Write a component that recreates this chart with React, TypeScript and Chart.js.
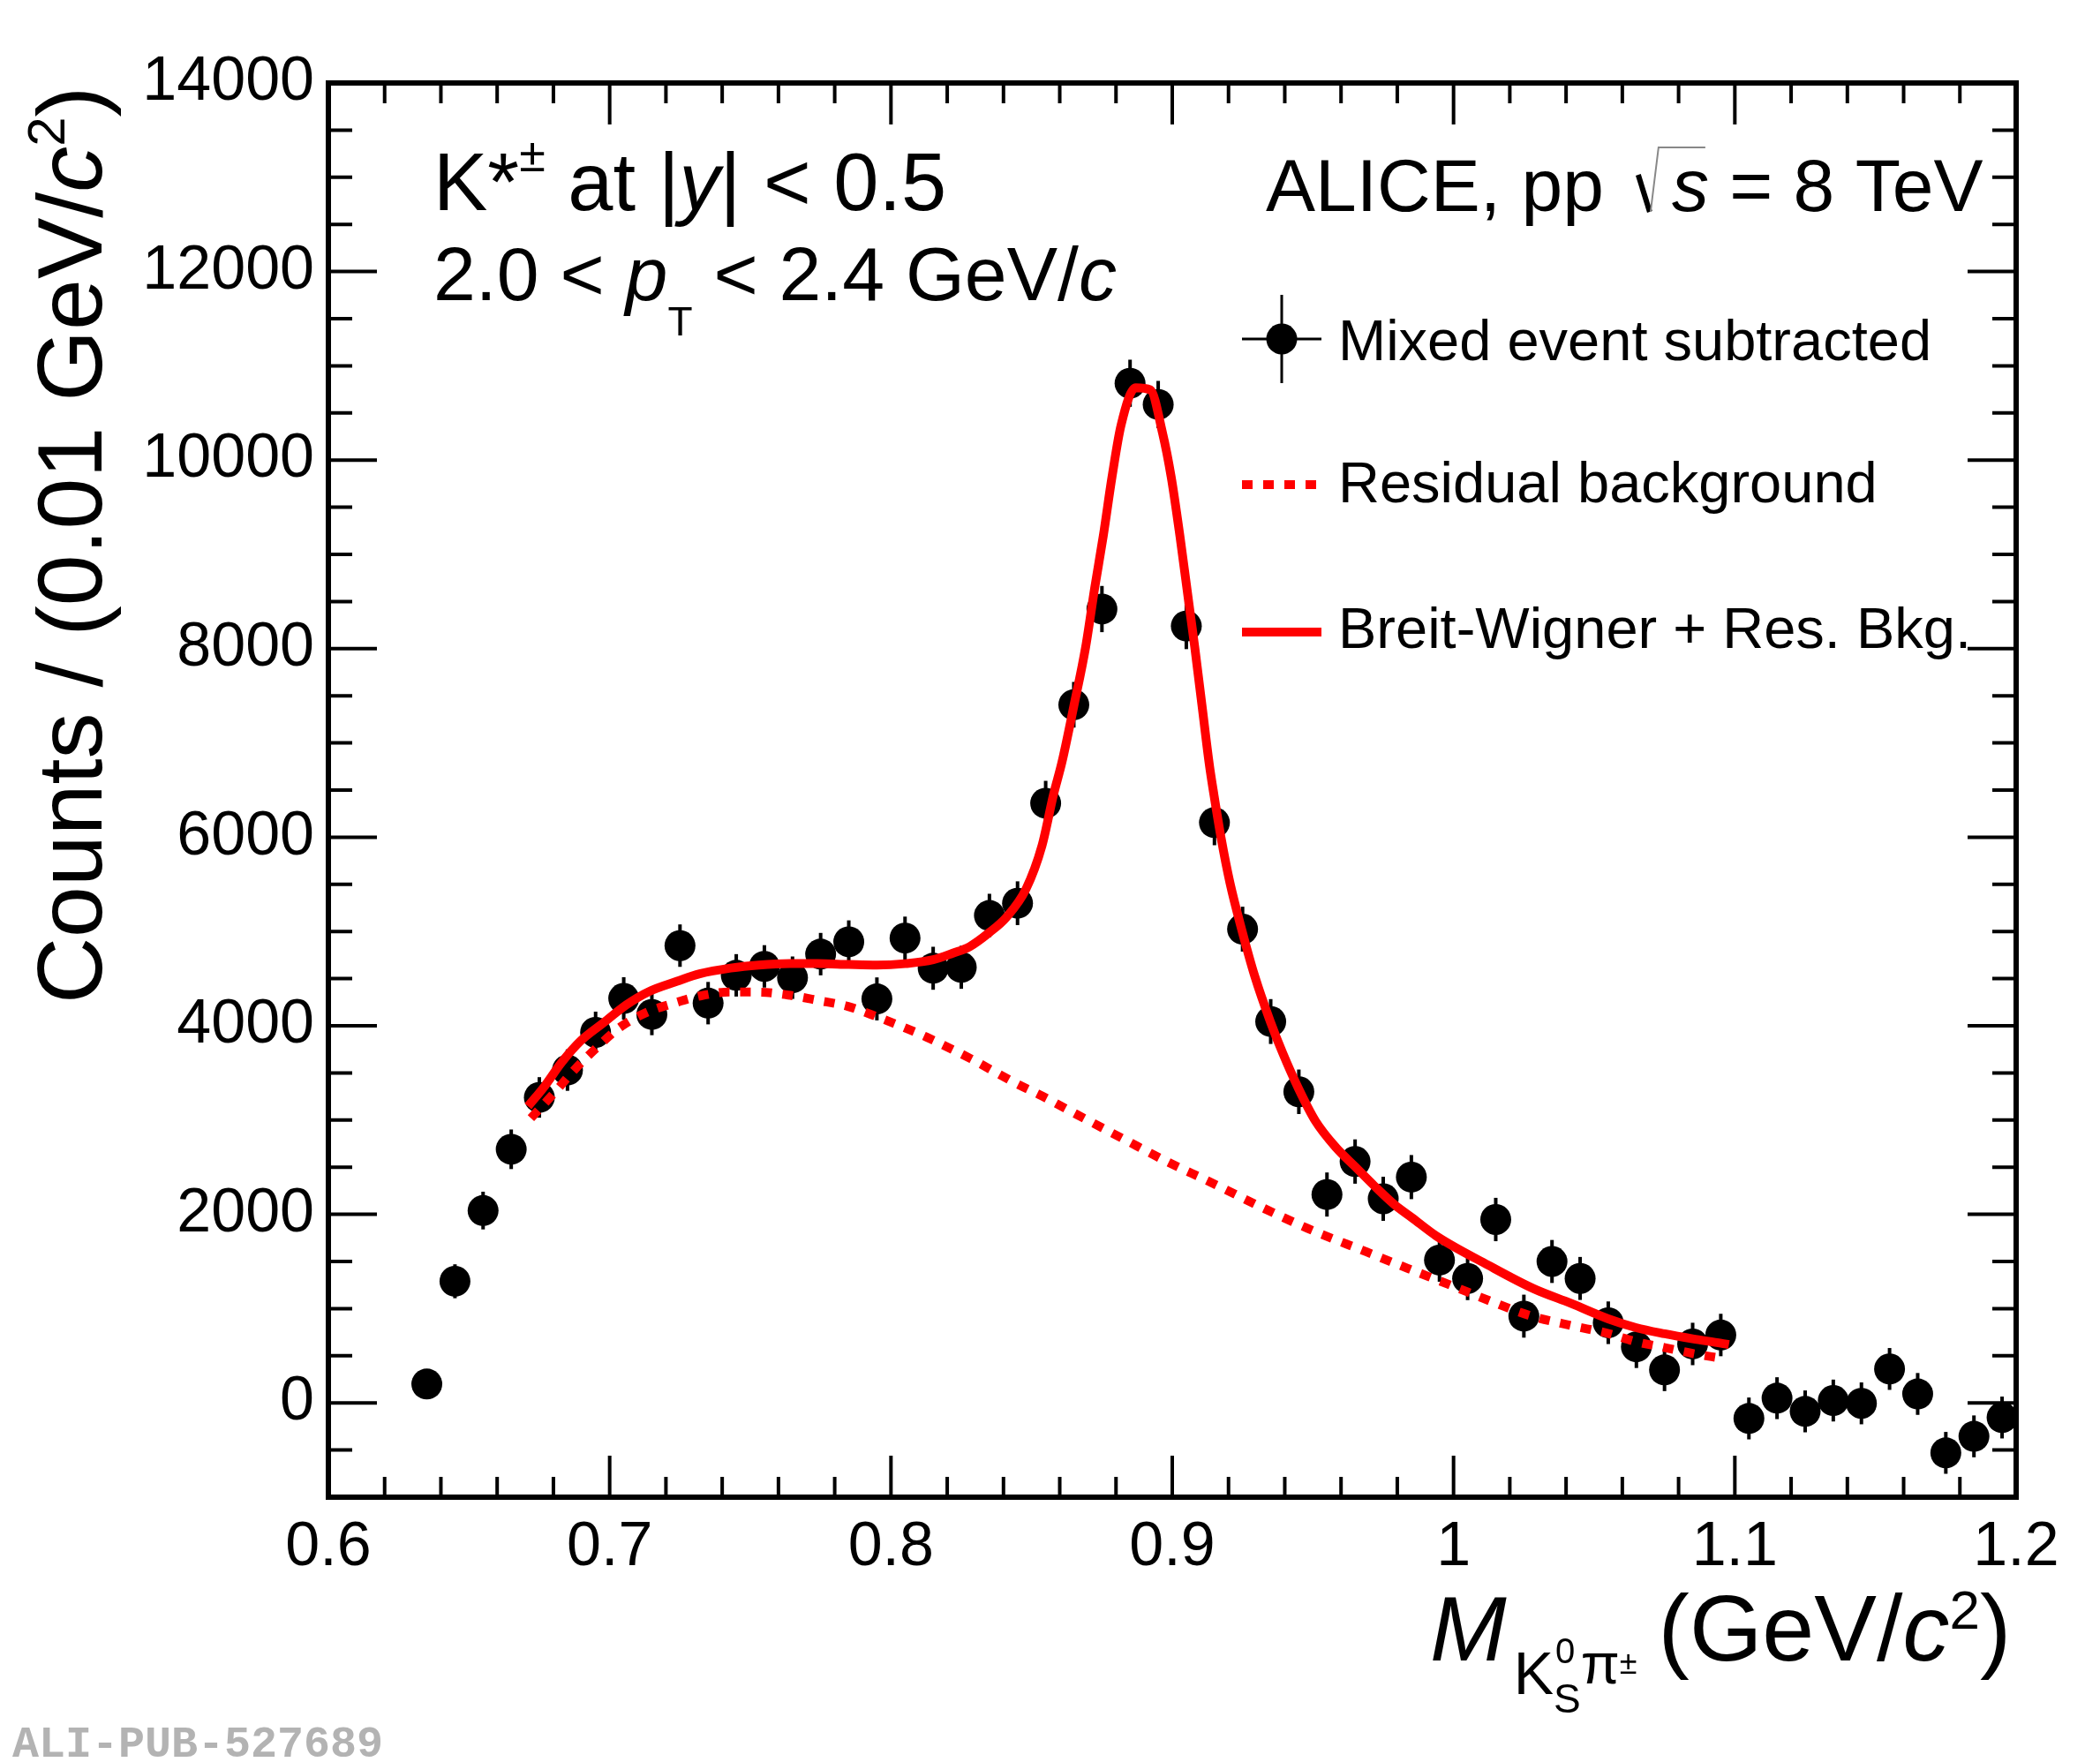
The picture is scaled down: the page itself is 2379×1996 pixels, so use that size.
import React, { useEffect, useRef } from 'react';
import { Chart, registerables } from 'chart.js';

Chart.register(...registerables);

const FONT = "'Liberation Sans', Arial, Helvetica, sans-serif";

// K*± invariant-mass bins (GeV/c^2), counts per 0.01 GeV/c^2 and stat. errors
const massBins = [
  0.635, 0.645, 0.655, 0.665, 0.675, 0.685, 0.695, 0.705, 0.715, 0.725,
  0.735, 0.745, 0.755, 0.765, 0.775, 0.785, 0.795, 0.805, 0.815, 0.825,
  0.835, 0.845, 0.855, 0.865, 0.875, 0.885, 0.895, 0.905, 0.915, 0.925,
  0.935, 0.945, 0.955, 0.965, 0.975, 0.985, 0.995, 1.005, 1.015, 1.025,
  1.035, 1.045, 1.055, 1.065, 1.075, 1.085, 1.095, 1.105, 1.115, 1.125,
  1.135, 1.145, 1.155, 1.165, 1.175, 1.185, 1.195,
];
const counts = [
  200, 1290, 2040, 2690, 3240, 3530, 3930, 4290, 4120, 4850,
  4240, 4535, 4630, 4510, 4760, 4890, 4285, 4930, 4610, 4620,
  5170, 5300, 6360, 7405, 8420, 10815, 10590, 8240, 6155, 5025,
  4045, 3300, 2210, 2560, 2165, 2395, 1515, 1320, 1945, 920,
  1500, 1320, 850, 595, 350, 625, 720, -165, 50, -90,
  25, -5, 360, 95, -530, -355, -155,
];
const countErrors = [
  140, 180, 200, 210, 215, 220, 220, 225, 220, 225,
  225, 225, 225, 225, 225, 228, 228, 228, 228, 228,
  230, 232, 238, 242, 245, 250, 250, 245, 240, 238,
  238, 236, 234, 235, 234, 234, 230, 230, 230, 228,
  228, 228, 226, 225, 225, 225, 225, 222, 222, 222,
  222, 222, 222, 222, 222, 222, 222,
];

// Breit-Wigner + residual background fit
const fitMass = [
  0.671, 0.677, 0.683, 0.690, 0.698, 0.706, 0.714, 0.724, 0.732, 0.743,
  0.753, 0.764, 0.774, 0.785, 0.795, 0.805, 0.815, 0.822, 0.828, 0.835,
  0.841, 0.848, 0.8537, 0.8578, 0.8608, 0.865, 0.8692, 0.8724, 0.8755, 0.8786,
  0.8818, 0.887, 0.8922, 0.8965, 0.8996, 0.9027, 0.9059, 0.908, 0.9106, 0.9132,
  0.9148, 0.9174, 0.9205, 0.9247, 0.9294, 0.9348, 0.9393, 0.9449, 0.9509, 0.9582,
  0.965, 0.9718, 0.9791, 0.9854, 0.9938, 1.0123, 1.0285, 1.0419, 1.055, 1.0649,
  1.0751, 1.085, 1.0951, 1.0979,
];
const fitCounts = [
  3146, 3364, 3614, 3848, 4036, 4223, 4363, 4472, 4551, 4612,
  4644, 4659, 4659, 4650, 4644, 4659, 4700, 4770, 4840, 4990,
  5150, 5450, 5911, 6454, 6798, 7390, 8015, 8639, 9200, 9825,
  10371, 10768, 10745, 10293, 9825, 9200, 8483, 8015, 7390, 6766,
  6454, 5986, 5518, 5019, 4519, 4050, 3708, 3333, 2990, 2709,
  2506, 2303, 2100, 1960, 1772, 1461, 1211, 1054, 892, 798,
  733, 680, 633, 618,
];

// residual background component
const bkgMass = [
  0.672, 0.6798, 0.6871, 0.6955, 0.7039, 0.7133, 0.7227, 0.7321, 0.7426, 0.7531,
  0.7635, 0.774, 0.7845, 0.7949, 0.8054, 0.8127, 0.8284, 0.8441, 0.8537, 0.8665,
  0.8825, 0.8986, 0.913, 0.9322, 0.9482, 0.9691, 0.9835, 0.9995, 1.0139, 1.0267,
  1.0419, 1.055, 1.0649, 1.0751, 1.085, 1.0951,
];
const bkgCounts = [
  3021, 3271, 3521, 3770, 3989, 4144, 4238, 4316, 4357, 4357,
  4326, 4270, 4207, 4097, 3973, 3879, 3650, 3395, 3255, 3052,
  2802, 2552, 2350, 2069, 1850, 1601, 1429, 1242, 1070, 930,
  820, 736, 649, 586, 524, 474,
];

const xMajorTicks = [0.6, 0.7, 0.8, 0.9, 1.0, 1.1, 1.2];
const yMajorTicks = [0, 2000, 4000, 6000, 8000, 10000, 12000, 14000];

type Part = { t: string; size: number; italic?: boolean; dy?: number };

function drawParts(ctx: CanvasRenderingContext2D, x: number, y: number, parts: Part[]) {
  let cx = x;
  for (const p of parts) {
    ctx.font = `${p.italic ? 'italic ' : ''}${p.size}px ${FONT}`;
    ctx.fillText(p.t, cx, y + (p.dy ?? 0));
    cx += ctx.measureText(p.t).width;
  }
  return cx;
}

function textWidth(ctx: CanvasRenderingContext2D, t: string, size: number, italic = false) {
  ctx.font = `${italic ? 'italic ' : ''}${size}px ${FONT}`;
  return ctx.measureText(t).width;
}

// ROOT-like frame: inward ticks on all sides, error bars, latex-ish labels
const rootFrame = {
  id: 'rootFrame',
  beforeDatasetsDraw(chart: any) {
    const { ctx, chartArea: a, scales } = chart;
    const { x, y } = scales;
    ctx.save();
    ctx.beginPath();
    ctx.rect(a.left, a.top, a.right - a.left, a.bottom - a.top);
    ctx.clip();
    ctx.strokeStyle = '#000';
    ctx.lineWidth = 4;
    massBins.forEach((m, i) => {
      const px = x.getPixelForValue(m);
      ctx.beginPath();
      ctx.moveTo(px, y.getPixelForValue(counts[i] - countErrors[i]));
      ctx.lineTo(px, y.getPixelForValue(counts[i] + countErrors[i]));
      ctx.stroke();
    });
    ctx.restore();
  },
  afterDraw(chart: any) {
    const { ctx, chartArea: a, scales } = chart;
    const { x, y } = scales;
    ctx.save();

    // ticks
    ctx.strokeStyle = '#000';
    ctx.lineWidth = 4;
    ctx.lineCap = 'butt';
    for (let i = 1; i < 30; i++) {
      const v = 0.6 + i * 0.02;
      const px = x.getPixelForValue(v);
      const len = i % 5 === 0 ? 47 : 23;
      ctx.beginPath();
      ctx.moveTo(px, a.bottom);
      ctx.lineTo(px, a.bottom - len);
      ctx.moveTo(px, a.top);
      ctx.lineTo(px, a.top + len);
      ctx.stroke();
    }
    for (let v = -500; v < 14000; v += 500) {
      const py = y.getPixelForValue(v);
      const len = v % 2000 === 0 ? 55 : 27;
      ctx.beginPath();
      ctx.moveTo(a.left, py);
      ctx.lineTo(a.left + len, py);
      ctx.moveTo(a.right, py);
      ctx.lineTo(a.right - len, py);
      ctx.stroke();
    }

    // frame
    ctx.lineWidth = 6;
    ctx.strokeRect(a.left, a.top, a.right - a.left, a.bottom - a.top);

    ctx.fillStyle = '#000';
    ctx.textBaseline = 'alphabetic';
    ctx.textAlign = 'left';

    // top-left annotations
    drawParts(ctx, 491, 238, [
      { t: 'K*', size: 92 },
      { t: '±', size: 54, dy: -44 },
      { t: ' at |', size: 92 },
      { t: 'y', size: 92, italic: true },
      { t: '| < 0.5', size: 92 },
    ]);
    drawParts(ctx, 491, 340, [
      { t: '2.0 < ', size: 86 },
      { t: 'p', size: 86, italic: true },
      { t: 'T', size: 46, dy: 40 },
      { t: ' < 2.4 GeV/', size: 86 },
      { t: 'c', size: 86, italic: true },
    ]);

    // ALICE, pp sqrt(s) = 8 TeV
    const base = 239;
    let cx = drawParts(ctx, 1434, base, [{ t: 'ALICE, pp', size: 84 }]);
    const sx = cx + 39;
    ctx.lineWidth = 6;
    ctx.beginPath();
    ctx.moveTo(sx, base - 41);
    ctx.lineTo(sx + 13, base + 1);
    ctx.stroke();
    ctx.strokeStyle = '#888';
    ctx.lineWidth = 2;
    ctx.beginPath();
    ctx.moveTo(sx + 14, base + 1);
    ctx.lineTo(sx + 23, base - 72);
    ctx.lineTo(sx + 76, base - 72);
    ctx.stroke();
    ctx.strokeStyle = '#000';
    cx = drawParts(ctx, sx + 38, base, [{ t: 's', size: 84, italic: true }]);
    drawParts(ctx, cx, base, [{ t: ' = 8 TeV', size: 84 }]);

    // legend
    const lx0 = 1407;
    const lx1 = 1497;
    const lc = (lx0 + lx1) / 2;
    ctx.lineWidth = 3;
    ctx.beginPath();
    ctx.moveTo(lx0, 384);
    ctx.lineTo(lx1, 384);
    ctx.moveTo(lc, 334);
    ctx.lineTo(lc, 434);
    ctx.stroke();
    ctx.beginPath();
    ctx.arc(lc, 384, 17.5, 0, Math.PI * 2);
    ctx.fill();

    ctx.strokeStyle = '#ff0000';
    ctx.lineWidth = 10;
    ctx.setLineDash([12, 12]);
    ctx.beginPath();
    ctx.moveTo(lx0, 549);
    ctx.lineTo(lx1 + 4, 549);
    ctx.stroke();
    ctx.setLineDash([]);
    ctx.beginPath();
    ctx.moveTo(lx0, 716);
    ctx.lineTo(lx1, 716);
    ctx.stroke();

    ctx.fillStyle = '#000';
    drawParts(ctx, 1516, 408, [{ t: 'Mixed event subtracted', size: 65 }]);
    drawParts(ctx, 1516, 569, [{ t: 'Residual background', size: 65 }]);
    drawParts(ctx, 1516, 734, [{ t: 'Breit-Wigner + Res. Bkg.', size: 65 }]);

    // x-axis title
    const xb = 1881;
    cx = drawParts(ctx, 1620, xb, [{ t: 'M', size: 104, italic: true }]);
    cx += 8;
    cx = drawParts(ctx, cx, xb, [{ t: 'K', size: 68, dy: 38 }]);
    ctx.font = `40px ${FONT}`;
    ctx.fillText('0', cx + 2, xb + 3);
    ctx.font = `46px ${FONT}`;
    ctx.fillText('S', cx, xb + 59);
    cx += Math.max(textWidth(ctx, '0', 40) + 2, textWidth(ctx, 'S', 46));
    cx = drawParts(ctx, cx, xb, [{ t: 'π', size: 64, dy: 26 }]);
    cx = drawParts(ctx, cx, xb, [{ t: '±', size: 36, dy: 15 }]);
    cx += 24;
    drawParts(ctx, cx, xb, [
      { t: '(GeV/', size: 106 },
      { t: 'c', size: 106, italic: true },
      { t: '2', size: 62, dy: -36 },
      { t: ')', size: 106 },
    ]);

    // y-axis title (rotated)
    ctx.save();
    ctx.translate(115, 1137);
    ctx.rotate(-Math.PI / 2);
    drawParts(ctx, 0, 0, [
      { t: 'Counts / (0.01 GeV/', size: 104 },
      { t: 'c', size: 104, italic: true },
      { t: '2', size: 60, dy: -42 },
      { t: ')', size: 104 },
    ]);
    ctx.restore();

    // figure id
    ctx.fillStyle = '#b3b3b3';
    ctx.font = "bold 50px 'Liberation Mono', 'DejaVu Sans Mono', monospace";
    ctx.fillText('ALI-PUB-527689', 14, 1990);

    ctx.restore();
  },
};

export default function App() {
  const canvasRef = useRef<HTMLCanvasElement | null>(null);

  useEffect(() => {
    if (!canvasRef.current) return;
    const chart = new Chart(canvasRef.current, {
      type: 'scatter',
      data: {
        datasets: [
          {
            label: 'Breit-Wigner + Res. Bkg.',
            data: fitMass.map((m, i) => ({ x: m, y: fitCounts[i] })),
            showLine: true,
            borderColor: '#ff0000',
            borderWidth: 10,
            pointRadius: 0,
            cubicInterpolationMode: 'monotone',
            order: 1,
          },
          {
            label: 'Residual background',
            data: bkgMass.map((m, i) => ({ x: m, y: bkgCounts[i] })),
            showLine: true,
            borderColor: '#ff0000',
            borderWidth: 10,
            borderDash: [12, 12],
            borderCapStyle: 'butt',
            pointRadius: 0,
            cubicInterpolationMode: 'monotone',
            order: 2,
          },
          {
            label: 'Mixed event subtracted',
            data: massBins.map((m, i) => ({ x: m, y: counts[i] })),
            pointRadius: 17.5,
            pointBackgroundColor: '#000',
            pointBorderWidth: 0,
            clip: 0,
            order: 3,
          },
        ],
      } as any,
      options: {
        animation: false,
        responsive: false,
        devicePixelRatio: 1,
        events: [],
        layout: { padding: { top: 94, right: 95, left: 0, bottom: 0 } },
        plugins: { legend: { display: false }, tooltip: { enabled: false } },
        scales: {
          x: {
            type: 'linear',
            min: 0.6,
            max: 1.2,
            grid: { display: false, drawTicks: false },
            border: { display: false },
            ticks: {
              padding: 16,
              autoSkip: false,
              maxRotation: 0,
              color: '#000',
              font: { size: 70, family: FONT },
              callback: (v: any) => String(Number(Number(v).toFixed(1))),
            },
            afterBuildTicks: (s: any) => {
              s.ticks = xMajorTicks.map((value) => ({ value }));
            },
            afterFit: (s: any) => {
              s.height = 300;
            },
          },
          y: {
            type: 'linear',
            min: -1000,
            max: 14000,
            grid: { display: false, drawTicks: false },
            border: { display: false },
            ticks: {
              padding: 16,
              autoSkip: false,
              color: '#000',
              font: { size: 70, family: FONT },
              callback: (v: any) => String(v),
            },
            afterBuildTicks: (s: any) => {
              s.ticks = yMajorTicks.map((value) => ({ value }));
            },
            afterFit: (s: any) => {
              s.width = 372;
            },
          },
        },
      } as any,
      plugins: [rootFrame],
    });
    return () => chart.destroy();
  }, []);

  return (
    <div style={{ position: 'fixed', left: 0, top: 0, width: 2379, height: 1996, background: '#fff' }}>
      <canvas ref={canvasRef} width={2379} height={1996} />
    </div>
  );
}
